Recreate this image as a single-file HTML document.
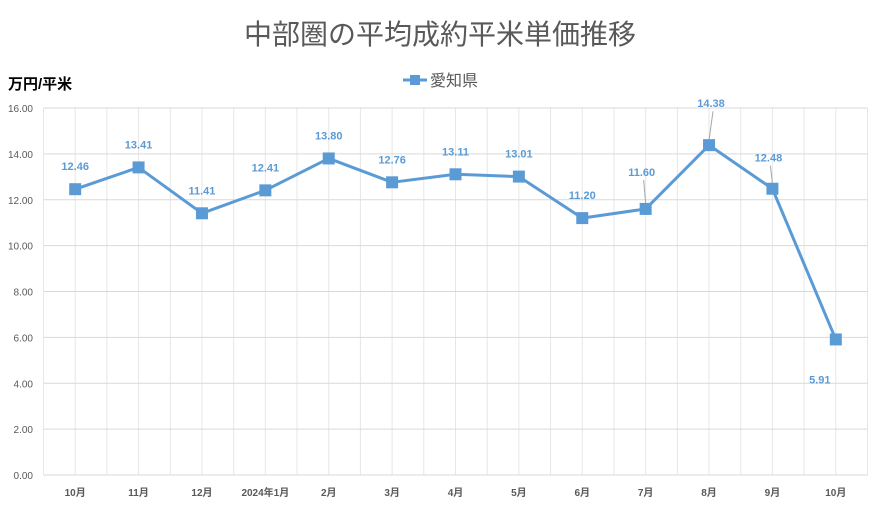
<!DOCTYPE html>
<html><head><meta charset="utf-8"><style>
body{margin:0;background:#fff;font-family:"Liberation Sans","Noto Sans CJK JP",sans-serif}
svg text{font-family:"Liberation Sans","Noto Sans CJK JP",sans-serif}
</style></head><body>
<svg id="c" width="880" height="509">
<text x="440" y="44" text-anchor="middle" font-size="28" fill="#595959">中部圏の平均成約平米単価推移</text>
<text x="8" y="89" font-size="15" font-weight="bold" fill="#000">万円/平米</text>
<g>
<line x1="403" y1="80" x2="427" y2="80" stroke="#5b9bd5" stroke-width="3"/>
<rect x="410" y="75" width="10" height="10" fill="#5b9bd5"/>
<text x="430" y="86" font-size="16" fill="#595959">愛知県</text>
</g>
<g id="grid"></g><g id="axes"></g><g id="series"></g>
</svg>
<script>
const categories=["10月","11月","12月","2024年1月","2月","3月","4月","5月","6月","7月","8月","9月","10月"];
const values=[12.46,13.41,11.41,12.41,13.80,12.76,13.11,13.01,11.20,11.60,14.38,12.48,5.91];
const yTicks=[0,2,4,6,8,10,12,14,16];
const NS="http://www.w3.org/2000/svg";
const L=43.5,R=867.5,T=108,B=475,yMax=16;
const step=(R-L)/categories.length;
const x=i=>L+step*(i+0.5);
const y=v=>B-(v/yMax)*(B-T);
function mk(tag,attrs,parent,txt){const e=document.createElementNS(NS,tag);for(const k in attrs)e.setAttribute(k,attrs[k]);if(txt!==undefined)e.textContent=txt;parent.appendChild(e);return e;}
const grid=document.getElementById('grid'),axes=document.getElementById('axes'),ser=document.getElementById('series');
for(let i=0;i<=categories.length*2;i++){const xx=L+step*i/2;
 const g=mk('line',{x1:xx,x2:xx,y1:T,y2:B,stroke:'#e6e6e6','stroke-width':1},grid);
 
 }
yTicks.forEach(t=>{const yy=y(t);
 const g=mk('line',{x1:L,x2:R,y1:yy,y2:yy,stroke:'#d9d9d9','stroke-width':1},grid);
 
 
 const tx=mk('text',{x:33,y:yy+4,'text-anchor':'end','font-size':10,fill:'#595959'},axes,t.toFixed(2));
 
 });
categories.forEach((c,i)=>{const tx=mk('text',{x:x(i),y:496,'text-anchor':'middle','font-size':10,'font-weight':'bold',fill:'#595959'},axes,c);
 
 });
const pl=mk('polyline',{points:values.map((v,i)=>x(i)+','+y(v)).join(' '),fill:'none',stroke:'#5b9bd5','stroke-width':3,'stroke-linejoin':'round'},ser);


values.forEach((v,i)=>{const px=x(i),py=y(v);
 const last=i===values.length-1;
 const leader=(i>=9&&i<=11);
 let lx=px,ly=py-19;
 if(i===9){lx=px-4;ly=py-33;}
 if(i===10){lx=px+2;ly=py-38;}
 if(i===11){lx=px-4;ly=py-27;}
 if(last){lx=px-16;ly=py+44;}
 if(leader){const ln=mk('line',{x1:px,y1:py-5,x2:lx+2,y2:ly+4,stroke:'#a6a6a6','stroke-width':1},ser);
  
  }
 const r=mk('rect',{x:px-6,y:py-6,width:12,height:12,fill:'#5b9bd5'},ser);
 
 
 const t=mk('text',{x:lx,y:ly,'text-anchor':'middle','font-size':11,'font-weight':'bold',fill:'#5b9bd5'},ser,v.toFixed(2));
 
 });
</script>
</body></html>
